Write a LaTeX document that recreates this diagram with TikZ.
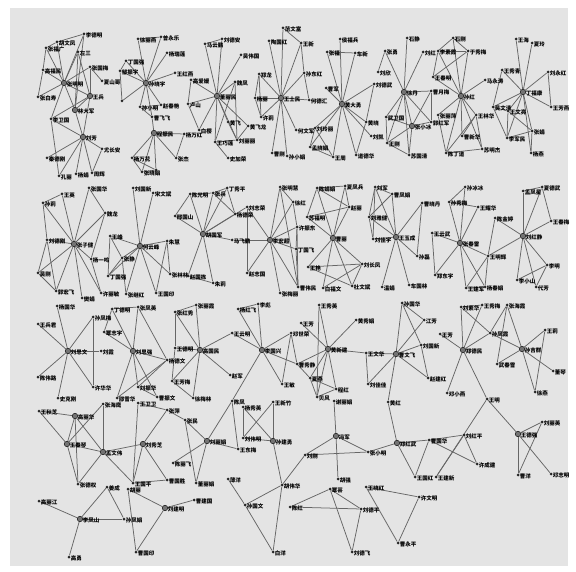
\documentclass[tikz,border=0pt]{standalone}
\usepackage{fontspec}
\newfontfamily\cjk{Noto Sans CJK SC}
\definecolor{bgc}{HTML}{E4E4E4}
\definecolor{edgec}{HTML}{666666}
\pgfdeclarelayer{back}\pgfdeclarelayer{edges}\pgfsetlayers{back,edges,main}
\tikzset{
 dot/.style={circle,fill=black!85,inner sep=0pt,minimum size=3pt},
 hub/.style={circle,fill=black!55,draw=black!85,line width=0.6pt,inner sep=0pt,minimum size=5.5pt},
 lab/.style={anchor=west,inner sep=0.3pt,font=\cjk\bfseries\fontsize{5.5}{5.8}\selectfont,text=black},
 edge/.style={draw=edgec,line width=0.75pt},
}
\newcommand\Nd[4]{\node[dot] (#1) at (#2,#3) {};\node[lab] (#1t) at ([xshift=1.3pt,yshift=-1.6pt]#1.center) {#4};}
\newcommand\Hb[4]{\node[hub] (#1) at (#2,#3) {};\node[lab] (#1t) at ([xshift=2.4pt,yshift=-1.8pt]#1.center) {#4};}
\begin{document}
\begin{tikzpicture}[x=1pt,y=-1pt]
\useasboundingbox (0,0) rectangle (576,572);
\begin{pgfonlayer}{back}
\fill[white] (0,0) rectangle (576,572);
\fill[bgc] (10,8) rectangle (568,566);
\end{pgfonlayer}
% ---- row 1
\Hb{a0}{64}{83}{张明明}\Nd{a1}{84}{34}{李德明}\Nd{a2}{57}{42}{胡文凤}\Nd{a3}{46}{48}{张福广}
\Nd{a4}{78}{52}{左三}\Nd{a5}{43}{70}{高福民}\Nd{a6}{90}{67}{张国梅}\Nd{a7}{102}{81}{夏山哥}
\Nd{a8}{38}{97}{张白寿}\Hb{a9}{90}{96}{王兵}\Hb{a10}{75}{110}{林大军}\Nd{a11}{51}{119}{李卫国}
\Hb{a12}{83}{137}{刘芳}\Nd{a13}{102}{149}{尤长安}\Nd{a14}{47}{158}{秦德刚}\Nd{a15}{59}{176}{孔丽}
\Nd{a16}{76}{174}{杨娟}\Nd{a17}{92}{173}{周辉}
\Hb{b0}{146}{83}{孙晓宇}\Nd{b1}{138}{39}{徐丽燕}\Nd{b2}{161}{37}{曾永乐}\Nd{b3}{167}{53}{杨瑞莲}
\Nd{b4}{175}{73}{王红燕}\Nd{b5}{126}{61}{丁国强}\Nd{b6}{120}{71}{邹振宇}\Nd{b7}{122}{101}{}
\Nd{b8}{140}{107}{孙小明}\Nd{b9}{161}{105}{赵春艳}\Nd{b10}{152}{117}{曹飞飞}\Hb{b11}{154}{133}{程振民}
\Nd{b12}{184}{134}{杨万红}\Nd{b13}{176}{158}{张杰}\Nd{b14}{132}{158}{杨万花}\Nd{b15}{142}{172}{张晓娟}
\Nd{b16}{156}{170}{}
\Hb{c0}{217}{96}{董丽民}\Nd{c1}{205}{44}{马云鹏}\Nd{c2}{222}{39}{刘德安}\Nd{c3}{241}{55}{吴伟国}
\Nd{c4}{191}{80}{高爱媛}\Nd{c5}{188}{104}{卢山}\Nd{c6}{199}{130}{白樱}\Nd{c7}{235}{82}{魏凤}
\Nd{c8}{228}{122}{黄飞}\Nd{c9}{248}{126}{黄飞龙}\Nd{c10}{215}{142}{王巧莲}\Nd{c11}{237}{140}{刘丽丽}
\Nd{c12}{228}{158}{史加荣}
\Hb{d0}{281}{98}{王士民}\Nd{d1}{283}{28}{范文富}\Nd{d2}{269}{41}{陶国红}\Nd{d3}{301}{43}{王新}
\Nd{d4}{304}{73}{孙东红}\Nd{d5}{309}{100}{何德汇}\Nd{d6}{259}{74}{郑龙}\Nd{d7}{255}{98}{杨丽}
\Nd{d8}{261}{117}{许莉}\Nd{d9}{296}{130}{何文军}\Nd{d10}{272}{153}{曹刚}\Nd{d11}{287}{156}{孙小娟}
\Hb{e0}{342}{104}{黄大勇}\Nd{e1}{340}{39}{侯福兵}\Nd{e2}{327}{52}{张福}\Nd{e3}{355}{53}{车新}
\Nd{e4}{374}{84}{刘德武}\Nd{e5}{326}{88}{曹军}\Nd{e6}{366}{122}{黄晓}\Nd{e7}{371}{136}{刘凯}
\Nd{e8}{315}{128}{刘玲丽}\Nd{e9}{310}{147}{孟晓娟}\Nd{e10}{333}{157}{王周}\Nd{e11}{356}{155}{道德华}
\Hb{f0}{404}{92}{徐丹}\Nd{f1}{407}{38}{石静}\Nd{f2}{423}{52}{刘红}\Nd{f3}{385}{51}{张勇}
\Nd{f4}{378}{72}{刘欣}\Nd{f5}{431}{91}{曹月梅}\Hb{f6}{412}{126}{张小冰}\Nd{f7}{386}{117}{武卫国}
\Nd{f8}{387}{143}{王刚}\Nd{f9}{409}{155}{苏国清}\Nd{f10}{431}{122}{郭红军}
\Hb{g0}{461}{96}{孙红}\Nd{g1}{453}{38}{石刚}\Nd{g2}{438}{51}{李素霞}\Nd{g3}{468}{51}{于秀梅}
\Nd{g4}{433}{77}{王春明}\Nd{g5}{485}{80}{马永涛}\Nd{g6}{438}{115}{张丽萍}\Nd{g7}{476}{115}{王林华}
\Nd{g8}{462}{136}{曹新华}\Nd{g9}{446}{153}{陈丁道}\Nd{g10}{482}{149}{苏明杰}
\Hb{h0}{523}{92}{丁福康}\Nd{h1}{516}{39}{王海}\Nd{h2}{532}{43}{夏玲}\Nd{h3}{502}{70}{王秀青}
\Nd{h4}{548}{72}{刘永红}\Nd{h5}{551}{107}{王芳燕}\Nd{h6}{493}{107}{吴文清}\Nd{h7}{508}{111}{王文亮}
\Nd{h8}{532}{131}{张娟}\Nd{h9}{507}{138}{李军民}\Nd{h10}{531}{153}{杨燕}
% ---- row 2
\Hb{i0}{74}{244}{张子健}\Nd{i1}{43}{203}{孙莉}\Nd{i2}{62}{194}{王英}\Nd{i3}{89}{188}{张国华}
\Nd{i4}{105}{213}{魏龙}\Nd{i5}{47}{240}{刘德刚}\Nd{i6}{38}{273}{吴刚}\Nd{i7}{91}{259}{杨一鸣}
\Nd{i8}{56}{291}{郭宏飞}\Nd{i9}{82}{298}{樊娟}\Nd{i10}{101}{293}{许丽敏}
\Hb{j0}{140}{246}{何云峰}\Nd{j1}{133}{188}{刘国新}\Nd{j2}{153}{193}{宋文斌}\Nd{j3}{110}{236}{王峰}
\Nd{j4}{167}{241}{朱慧}\Nd{j5}{122}{258}{张静}\Nd{j6}{108}{276}{丁国强}\Nd{j7}{126}{294}{张继红}
\Nd{j8}{156}{293}{王国印}\Nd{j9}{170}{274}{张林林}
\Hb{k0}{203}{234}{胡国军}\Nd{k1}{190}{194}{陈光明}\Nd{k2}{213}{193}{张兵}\Nd{k3}{227}{188}{丁秀平}
\Nd{k4}{175}{216}{邢国山}\Nd{k5}{235}{214}{杨德荣}\Nd{k6}{232}{240}{马飞鹏}\Nd{k7}{247}{207}{刘志荣}
\Nd{k8}{188}{276}{赵国栋}\Nd{k9}{213}{283}{朱莉}
\Hb{l0}{270}{240}{李宏超}\Nd{l1}{280}{187}{张明慧}\Nd{l2}{293}{202}{徐红}\Nd{l3}{297}{227}{许振东}
\Nd{l4}{296}{249}{丁国飞}\Nd{l5}{247}{273}{赵志国}\Nd{l6}{280}{293}{张梅丽}\Nd{l7}{298}{287}{曹伟民}
\Hb{m0}{333}{238}{曹丽}\Nd{m1}{317}{188}{陈娟娟}\Nd{m2}{345}{186}{夏凤兵}\Nd{m3}{349}{207}{赵丽}
\Nd{m4}{307}{217}{苏福明}\Nd{m5}{362}{264}{刘长凤}\Nd{m6}{308}{267}{王艳}\Nd{m7}{323}{288}{白福文}
\Nd{m8}{352}{286}{杜文斌}
\Hb{n0}{396}{237}{王玉成}\Nd{n1}{375}{187}{刘军}\Nd{n2}{392}{194}{曹凤娟}\Nd{n3}{369}{217}{刘雅健}
\Nd{n4}{373}{239}{刘佳宇}\Nd{n5}{422}{203}{曹晓丹}\Nd{n6}{417}{256}{孙磊}\Nd{n7}{382}{287}{温娟}
\Nd{n8}{409}{285}{车国林}
\Hb{o0}{460}{243}{张春雷}\Nd{o1}{465}{187}{孙冰冰}\Nd{o2}{449}{202}{孙秀梅}\Nd{o3}{478}{207}{王耀华}
\Nd{o4}{432}{233}{王云武}\Nd{o5}{435}{275}{郑东宇}\Nd{o6}{488}{256}{王明辉}\Nd{o7}{466}{288}{王建军}
\Nd{o8}{485}{287}{杨春娟}\Nd{o9}{495}{218}{陈金婷}
\Hb{p0}{523}{236}{刘红静}\Nd{p1}{523}{191}{孟凤星}\Nd{p2}{542}{187}{夏德武}\Nd{p3}{551}{221}{王春梅}
\Nd{p6}{547}{265}{李明}\Nd{p7}{517}{280}{李小山}\Nd{p8}{536}{287}{代芳}
% ---- row 3
\Hb{q0}{68}{351}{刘思文}\Nd{q1}{57}{306}{杨国华}\Nd{q2}{38}{324}{王兵君}\Nd{q3}{93}{317}{孙凤梅}
\Nd{q4}{101}{351}{刘霞}\Nd{q5}{38}{377}{陈伟路}\Nd{q6}{58}{398}{史克刚}\Nd{q7}{93}{387}{许华华}
\Hb{r0}{133}{351}{刘思强}\Nd{r1}{112}{309}{丁德明}\Nd{r2}{138}{307}{张凤英}\Nd{r3}{104}{332}{覃志宇}
\Nd{r4}{167}{360}{杨德文}\Nd{r5}{138}{387}{刘振华}\Nd{r6}{157}{397}{曹振文}\Nd{r7}{117}{398}{邵雪华}
\Hb{s0}{200}{350}{高国民}\Nd{s1}{175}{312}{张红秀}\Nd{s2}{196}{305}{张丽霞}\Nd{s3}{175}{348}{王德明}
\Nd{s4}{232}{333}{王云明}\Nd{s5}{230}{375}{赵军}\Nd{s6}{172}{381}{王芳梅}\Nd{s7}{193}{398}{徐梅林}
\Hb{t0}{262}{350}{李国兴}\Nd{t1}{238}{309}{杨红飞}\Nd{t2}{258}{304}{李彪}\Nd{t3}{291}{333}{邓世荣}
\Nd{t4}{297}{364}{曹秀静}\Nd{t5}{282}{384}{王敏}
\Hb{u0}{328}{349}{黄新建}\Nd{u1}{319}{305}{王秀英}\Nd{u2}{301}{323}{王芳}\Nd{u3}{356}{320}{黄秀娟}
\Nd{u4}{366}{353}{王文华}\Nd{u6}{310}{378}{夏燕}\Nd{u7}{336}{389}{程红}\Nd{u8}{317}{397}{贝风}
\Hb{v0}{396}{354}{曹文飞}\Nd{v1}{402}{303}{孙国华}\Nd{v2}{424}{320}{江芳}\Nd{v3}{421}{345}{刘国新}
\Nd{v4}{428}{378}{赵建红}\Nd{v6}{368}{384}{刘佳佳}\Nd{v7}{388}{402}{黄红}
\Hb{w0}{463}{350}{郑德民}\Nd{w1}{461}{307}{刘素华}\Nd{w2}{482}{305}{王秀梅}\Nd{w3}{490}{333}{孙凤霞}
\Nd{w4}{440}{334}{王芳}\Nd{w5}{447}{393}{邓小燕}\Nd{w6}{487}{399}{王明}
\Hb{x0}{522}{349}{孙吉群}\Nd{x1}{507}{305}{张海霞}\Nd{x2}{497}{364}{武春雪}\Nd{x3}{545}{330}{王莉}
\Nd{x4}{553}{371}{董琴}\Nd{x5}{535}{392}{徐燕}
% ---- row 4
\Nd{y1}{39}{411}{王秋芝}\Hb{y2}{75}{416}{高丽华}\Nd{y3}{103}{404}{张海鹰}\Hb{y4}{67}{444}{王春琴}
\Hb{y5}{103}{452}{孟文伟}\Nd{y6}{78}{484}{张德权}
\Nd{z1}{138}{403}{王卫卫}\Nd{z2}{167}{410}{张萍}\Hb{z3}{143}{444}{刘秀芝}\Nd{z4}{133}{483}{王国平}
\Nd{z5}{167}{480}{曹国胜}
\Hb{aa0}{207}{441}{刘丽娟}\Nd{aa1}{185}{420}{张民}\Nd{aa2}{173}{463}{陈丽飞}\Nd{aa3}{196}{483}{董丽娟}
\Nd{aa4}{232}{401}{陈凤}\Nd{aa5}{238}{449}{王东梅}
\Hb{ab0}{273}{441}{孙建勇}\Nd{ab1}{243}{407}{杨秀英}\Nd{ab2}{273}{402}{王新竹}\Nd{ab3}{243}{438}{刘伟明}
\Nd{ab6}{282}{485}{胡伟华}\Nd{ab7}{228}{479}{薄洋}\Nd{ab8}{245}{505}{孙国文}\Nd{ab9}{273}{552}{白洋}
\Hb{ac0}{336}{436}{冯军}\Nd{ac1}{305}{455}{刘刚}\Nd{ac2}{368}{452}{张小明}\Nd{ac3}{338}{479}{胡强}
\Nd{ac4}{334}{401}{谢丽娟}
\Hb{ad0}{397}{443}{郑红武}\Nd{ad1}{415}{477}{王国红}\Nd{ad2}{436}{477}{王建新}\Nd{ad3}{429}{440}{曹国华}
\Nd{ad5}{464}{435}{刘红平}\Nd{ad6}{477}{464}{许成建}
\Hb{ae0}{518}{434}{王德强}\Nd{ae1}{542}{422}{刘丽英}\Nd{ae2}{518}{475}{曹洋}\Nd{ae3}{551}{474}{邓志明}
% ---- row 5
\Nd{ya}{39}{501}{高丽江}\Hb{yb}{80}{519}{李凤山}\Nd{yc}{107}{487}{姜成}\Nd{yd}{124}{519}{孙凤娟}
\Nd{ye}{69}{557}{高勇}
\Nd{za}{128}{489}{胡丽}\Hb{zb}{165}{508}{刘建明}\Nd{zc}{194}{500}{曹建国}\Nd{zd}{136}{552}{曹国印}
\Nd{ca}{290}{507}{陈红}\Nd{cb}{330}{489}{覃芸}\Nd{cc}{361}{509}{刘德平}\Nd{cd}{352}{552}{刘德飞}
\Nd{ce}{366}{487}{王晓红}\Nd{cf}{419}{497}{许文明}\Nd{cg}{398}{543}{曹永平}
\begin{pgfonlayer}{edges}
\foreach \u/\v in {a0/a1,a0/a2,a0/a3,a0/a5,a0/a6,a0/a8,a0/a9,a0/a10,a0/a11,a0/a4,a2/a3,a2/a1,a3/a5,a5/a8,a6/a9,a6/a7,a9/a10,a4/a9,a4/a10,a1/a10,a9/a11,a10/a12,a11/a12,a12/a13,a12/a14,a12/a15,a12/a16,a12/a17,a11/a15,a13/a17,a9/a12,
b0/b1,b0/b2,b0/b3,b0/b4,b0/b5,b0/b6,b0/b7,b0/b8,b0/b9,b0/b10,b1/b2,b5/b6,b6/b7,b8/b9,b8/b10,b10/b11,b11/b12,b11/b13,b11/b14,b11/b15,b11/b16,b12/b13,b14/b16,b14/b15,b15/b16,
c0/c1,c0/c2,c0/c3,c0/c4,c0/c5,c0/c6,c0/c7,c0/c8,c0/c9,c0/c10,c0/c11,c1/c2,c4/c5,c5/c6,c7/c10,c8/c11,c10/c11,c10/c12,c7/c11,c9/c11,
d0/d1,d0/d2,d0/d3,d0/d4,d0/d5,d0/d6,d0/d7,d0/d8,d0/d9,d0/d10,d0/d11,d1/d3,d3/d4,d4/d5,d6/d7,d7/d8,d6/d8,
e0/e1,e0/e2,e0/e3,e0/e4,e0/e5,e0/e6,e0/e7,e0/e8,e0/e9,e0/e10,e0/e11,e2/e3,e8/e9,e8/e10,e9/e10,e6/e11,e4/e6,
f0/f1,f0/f2,f0/f5,f0/f6,f0/f7,f0/f8,f0/f9,f0/f10,f3/f4,f0/f3,f5/f10,f5/f6,f6/f7,f6/f8,f6/f9,f6/f10,f7/f8,f8/f9,
g0/g1,g0/g2,g0/g3,g0/g4,g0/g5,g0/g6,g0/g7,g0/g8,g0/g9,g0/g10,g1/g2,g1/g3,g2/g3,g2/g4,g3/g4,g7/g8,g7/g10,g9/g10,g9/g7,g6/g9,
h0/h1,h0/h2,h0/h3,h0/h4,h0/h5,h0/h6,h0/h7,h0/h8,h0/h9,h0/h10,h4/h5,h6/h7,h7/h8,h7/h9,h8/h10,h6/h9,h3/h6,h9/h8,
i0/i1,i0/i2,i0/i3,i0/i4,i0/i5,i0/i6,i0/i7,i0/i8,i0/i9,i0/i10,i1/i2,i1/i5,i3/i4,i5/i6,i5/i8,i8/i6,i7/i10,i4/i7,
j0/j1,j0/j2,j0/j3,j0/j4,j0/j5,j0/j6,j0/j7,j0/j8,j0/j9,j3/j5,j3/j6,j5/j6,j5/j7,j4/j8,j4/j9,
k0/k1,k0/k2,k0/k3,k0/k4,k0/k5,k0/k6,k0/k7,k0/k8,k0/k9,k2/k3,k3/k5,k2/k5,k1/k2,k8/k9,k4/k1,
l0/l1,l0/l2,l0/l3,l0/l4,l0/l5,l0/l6,l0/l7,l1/l2,l2/l3,l3/l4,l3/l7,l4/l7,l1/l7,l0/k7,l0/k6,k7/l5,
m0/m1,m0/m2,m0/m3,m0/m4,m0/m5,m0/m6,m0/m7,m0/m8,m1/m2,m2/m3,m1/m3,m4/m3,m1/m4,m5/m6,m5/m7,m5/m8,m6/m8,
n0/n1,n0/n2,n0/n3,n0/n4,n0/n5,n0/n6,n0/n7,n0/n8,n1/n2,n1/n3,n2/n3,n3/n4,n1/n4,n5/n6,
o0/o1,o0/o2,o0/o3,o0/o4,o0/o5,o0/o6,o0/o7,o0/o8,o1/o2,o2/o3,o4/o5,o6/o7,o6/o8,o7/o8,o9/o6,
p0/p1,p0/p2,p0/p3,p0/o9,p0/o6,p0/p6,p0/p7,p0/p8,p1/p2,p2/p3,p6/p7,p6/p8,
q0/q1,q0/q2,q0/q3,q0/q4,q0/q5,q0/q6,q0/q7,q3/q7,
r0/r1,r0/r2,r0/r3,r0/r4,r0/r5,r0/r6,r0/r7,r1/r2,r1/r3,r4/r5,r4/r7,r5/r6,r2/r4,
s0/s1,s0/s2,s0/s3,s0/s4,s0/s5,s0/s6,s0/s7,s1/s2,s1/s3,s3/s6,s6/s7,
t0/t1,t0/t2,t0/t3,t0/t4,t0/t5,t0/s4,t1/t2,t3/t5,t3/t4,t0/aa4,
u0/u1,u0/u2,u0/u3,u0/u4,u0/u6,u0/u7,u0/u8,u0/t4,u1/u8,u6/u7,u6/u8,u7/u8,t4/u6,
v0/v1,v0/v2,v0/v3,v0/v4,v0/u4,v0/v6,v1/v2,v1/v3,v3/v4,u4/v6,v0/v7,
w0/w1,w0/w2,w0/w3,w0/w4,w0/w5,w0/w6,w1/w2,w1/w3,
x0/x1,x0/w3,x0/x2,x0/x3,x0/x4,x0/x5,x1/w3,x1/x2,x3/x5,
y1/y2,y1/y4,y2/y4,y2/y5,y2/y6,y3/y4,y3/y5,y4/y5,y4/y6,y5/y6,y5/z4,
z1/z2,z1/z4,z2/z3,z3/z4,z3/z5,z3/y5,z4/z5,z2/aa1,
aa0/aa1,aa0/aa2,aa0/aa3,aa0/aa4,aa0/aa5,aa1/aa3,aa4/aa5,
ab0/ab1,ab0/ab2,ab0/ab3,ab1/ab3,ab2/ab3,ab0/ab6,ab6/ab8,ab7/ab8,ab6/ab9,ab8/ab9,ab6/ac1,
ac0/ac1,ac0/ac2,ac0/ac3,ac4/ac0,ac1/ac2,
ad0/ad1,ad0/ad3,ad0/v7,ad1/ad3,ad3/ad5,ad3/ad6,ad5/ad6,ad5/ad2,ad0/ac2,
w6/ae0,w6/ad2,ae0/ae1,ae0/ae2,ae0/ae3,ae1/ae2,
ya/yb,yb/yc,yb/yd,yc/yd,yb/ye,
za/zb,zb/zc,zb/zd,za/zd,
ca/cb,ca/cc,cb/cc,cb/cd,cc/cd,
ce/cf,ce/cg,cf/cg}
{\draw[edge] (\u) -- (\v);}
\end{pgfonlayer}
\end{tikzpicture}
\end{document}
